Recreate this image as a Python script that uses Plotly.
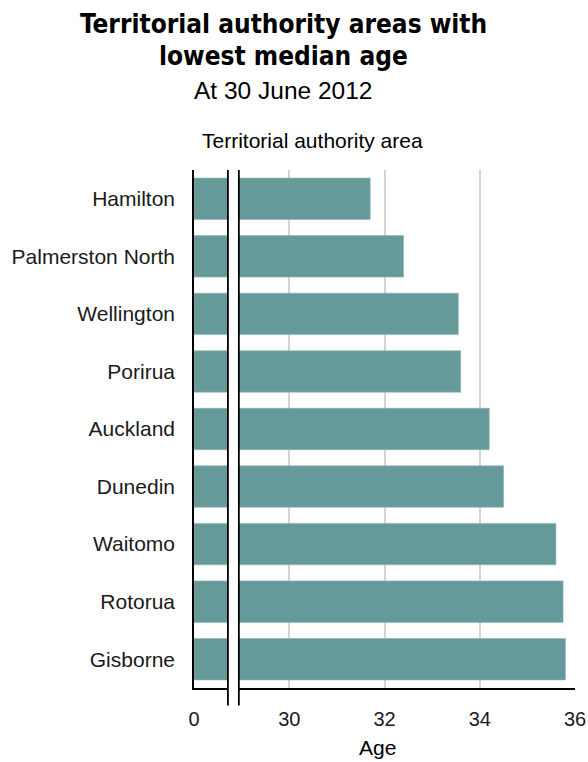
import plotly.graph_objects as go

# Median age by territorial authority area, at 30 June 2012
areas = ["Hamilton", "Palmerston North", "Wellington", "Porirua", "Auckland",
         "Dunedin", "Waitomo", "Rotorua", "Gisborne"]
median_age = [31.7, 32.4, 33.55, 33.6, 34.2, 34.5, 35.6, 35.75, 35.8]

# Broken axis: the left stub stands for zero, the scale resumes at 30
axis_start = 28
tick_values = [28, 30, 32, 34, 36]
tick_labels = ["0", "30", "32", "34", "36"]
break_left, break_right = 28.712, 28.942

BAR = "#669999"
TXT = "#1a1a1a"
BASE = "Liberation Sans, Arial, sans-serif"

fig = go.Figure(go.Bar(
    y=areas,
    x=[v - axis_start for v in median_age],
    base=axis_start,
    orientation="h",
    marker=dict(color=BAR, line=dict(color="#8fb5b5", width=0.6)),
    width=0.72,
    hoverinfo="skip",
))

fig.update_layout(
    width=588, height=762,
    margin=dict(l=194, r=13, t=170, b=74, autoexpand=False),
    plot_bgcolor="white", paper_bgcolor="white",
    showlegend=False,
    font=dict(family=BASE, size=20, color=TXT),
    xaxis=dict(
        range=[axis_start, 36], tickvals=tick_values, ticktext=tick_labels,
        showgrid=True, gridcolor="#d4d4d4", gridwidth=1.6,
        showline=True, linecolor="black", linewidth=1.6,
        ticks="", ticklabelstandoff=12, zeroline=False,
        tickfont=dict(family=BASE, size=20, color=TXT),
        automargin=False, fixedrange=True,
    ),
    yaxis=dict(
        autorange="reversed", showgrid=False,
        showline=True, linecolor="black", linewidth=1.6,
        ticks="", ticklabelstandoff=13,
        tickfont=dict(family=BASE, size=21, color=TXT),
        automargin=False, fixedrange=True,
    ),
)

# gap that cuts bars and baseline, flanked by two break marks
fig.add_shape(type="rect", xref="x", yref="paper",
              x0=break_left, x1=break_right, y0=-0.01, y1=1.0,
              fillcolor="white", line=dict(width=0), layer="above")
for bx in (break_left, break_right):
    fig.add_shape(type="line", xref="x", yref="paper",
                  x0=bx, x1=bx, y0=-0.034, y1=1.0,
                  line=dict(color="black", width=1.8), layer="above")

def note(text, y, size, family=BASE, x=0.234):
    fig.add_annotation(text=text, xref="paper", yref="paper", x=x, y=y,
                       xanchor="center", yanchor="middle", showarrow=False,
                       font=dict(family=family, size=size, color="black"))

TITLE_FONT = "DejaVu Sans Condensed, DejaVu Sans, sans-serif"
note("<b>Territorial authority areas with</b>", 1.2819, 26, TITLE_FONT)
note("<b>lowest median age</b>", 1.2201, 26, TITLE_FONT)
note("At 30 June 2012", 1.1544, 24.5)
note("Territorial authority area", 1.0579, 21, x=0.312)
note("Age", -0.1158, 21, x=0.482)

fig.write_html("out.html")
